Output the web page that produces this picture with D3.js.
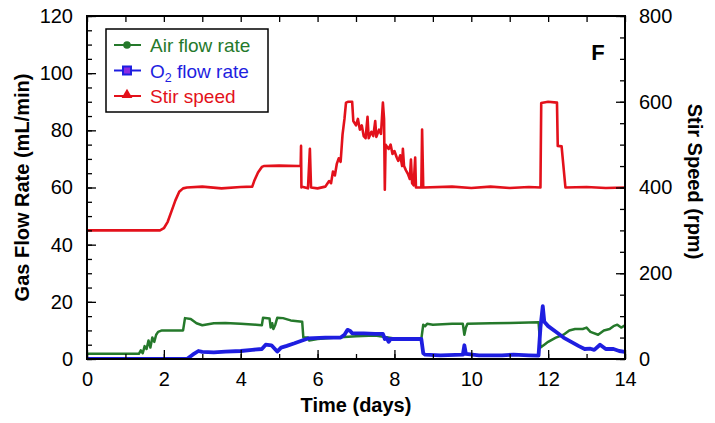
<!DOCTYPE html>
<meta charset="utf-8">
<script src="https://d3js.org/d3.v7.min.js"></script>
<style>
  body { margin: 0; background: #fff; }
  text { font-family: "Liberation Sans", Arial, sans-serif; }
</style>
<svg id="chart" width="715" height="423"></svg>
<script>

// air flow rate (mL/min), left axis
var airDays = [0, 1.35, 1.4, 1.45, 1.5, 1.55, 1.6, 1.65, 1.7, 1.75, 1.8, 1.85, 1.95, 2.5, 2.55, 2.7, 2.85, 3.0, 3.3, 3.6, 4.0, 4.4, 4.55, 4.58, 4.75, 4.78, 4.82, 4.85, 4.9, 4.95, 5.1, 5.3, 5.6, 5.63, 5.75, 5.78, 6.0, 6.5, 6.8, 7.0, 7.5, 8.0, 8.7, 8.75, 8.8, 8.85, 9.0, 9.5, 9.78, 9.82, 9.86, 9.9, 10.5, 11.0, 11.5, 11.75, 11.8, 11.9, 12.0, 12.2, 12.4, 12.55, 12.7, 12.9, 13.0, 13.1, 13.3, 13.45, 13.6, 13.7, 13.8, 13.9, 14]
var airFlow = [1.8, 1.8, 3, 2, 4.5, 3.5, 6.5, 4, 7.5, 6, 8.5, 9.5, 10, 10, 14.3, 14, 12.5, 11.8, 12.5, 12.6, 12.3, 12, 11.8, 14.4, 14.2, 11, 12.5, 10.5, 12, 14.4, 14.3, 13.5, 13, 7.5, 7.5, 6.5, 7, 7.5, 7.8, 8, 8.2, 7.2, 7, 12, 11.5, 12.3, 12, 12.3, 12.3, 8.5, 11, 12.3, 12.5, 12.6, 12.8, 12.9, 4, 5, 6, 7.5, 8.5, 10, 10.5, 10.5, 11, 9.5, 8.5, 10, 10.5, 11.5, 12, 11, 11.8]

// O2 flow rate (mL/min), left axis
var o2Days = [0, 2.6, 2.75, 2.9, 3.0, 3.3, 3.6, 4.0, 4.3, 4.55, 4.65, 4.8, 4.95, 5.05, 5.2, 5.4, 5.6, 5.75, 6.2, 6.6, 6.7, 6.78, 6.85, 6.9, 7.2, 7.5, 7.7, 7.75, 7.8, 7.85, 7.9, 8.2, 8.5, 8.7, 8.75, 8.8, 9.2, 9.78, 9.82, 9.86, 10.2, 10.8, 11.1, 11.5, 11.75, 11.8, 11.86, 11.9, 12.0, 12.2, 12.4, 12.6, 12.8, 12.95, 13.1, 13.2, 13.35, 13.5, 13.7, 13.85, 14]
var o2Flow = [0, 0, 1.5, 2.8, 2.5, 2.3, 2.6, 2.8, 3.2, 3.5, 5, 4.8, 2.6, 4, 4.6, 5.5, 6.5, 7.2, 7.5, 7.5, 8.5, 10.2, 9.8, 9, 9, 8.8, 8.8, 7, 7.3, 6, 7, 7, 7, 7, 2, 1.5, 1.3, 1.5, 4.8, 1.8, 1.3, 1.3, 1.5, 1.3, 1.2, 11, 18.5, 13, 11.5, 9.5, 7.5, 6, 4.5, 3.5, 3.6, 3.2, 5, 3.5, 3.5, 2.8, 2.5]

// stir speed (rpm), right axis
var stirDays = [0, 1.9, 2.0, 2.1, 2.2, 2.3, 2.4, 2.5, 2.6, 3, 3.5, 4.0, 4.3, 4.35, 4.45, 4.55, 4.6, 5.0, 5.5, 5.56, 5.57, 5.58, 5.6, 5.75, 5.8, 5.83, 6.0, 6.2, 6.3, 6.35, 6.4, 6.45, 6.5, 6.55, 6.6, 6.65, 6.7, 6.74, 6.8, 6.9, 6.93, 7.0, 7.05, 7.1, 7.15, 7.2, 7.25, 7.3, 7.33, 7.4, 7.45, 7.5, 7.53, 7.6, 7.65, 7.7, 7.73, 7.75, 7.77, 7.8, 7.85, 7.9, 7.95, 8.0, 8.06, 8.1, 8.15, 8.2, 8.22, 8.25, 8.3, 8.35, 8.4, 8.43, 8.46, 8.5, 8.54, 8.56, 8.7, 8.72, 8.75, 9.5, 10, 10.5, 11, 11.5, 11.8, 11.82, 12.0, 12.23, 12.25, 12.35, 12.45, 13, 13.5, 14]
var stirSpeed = [300, 300, 305, 320, 345, 370, 390, 398, 400, 402, 398, 401, 402, 415, 435, 448, 450, 451, 450, 450, 497, 400, 402, 398, 490, 400, 398, 402, 415, 410, 437, 428, 455, 468, 460, 524, 560, 598, 600, 600, 555, 545, 560, 535, 545, 520, 515, 565, 515, 530, 520, 555, 518, 535, 525, 598, 560, 395, 500, 496, 490, 500, 478, 485, 470, 462, 475, 450, 490, 450, 440, 432, 420, 465, 410, 405, 470, 400, 400, 535, 400, 402, 399, 402, 399, 401, 400, 597, 600, 598, 497, 496, 400, 401, 399, 400]

var xTicks = [0, 2, 4, 6, 8, 10, 12, 14]
var leftTicks = [0, 20, 40, 60, 80, 100, 120]
var rightTicks = [0, 200, 400, 600, 800]

var legendNames = ["Air flow rate", "O2 flow rate", "Stir speed"]
var colors = ["#25792b", "#1e1ee0", "#e3111b"]

var svg = d3.select("#chart")
var margin = {left: 87, right: 90, top: 16, bottom: 64}
var W = 715 - margin.left - margin.right
var H = 423 - margin.top - margin.bottom

var g = svg.append("g").attr("transform", "translate(" + margin.left + "," + margin.top + ")")

var x = d3.scaleLinear().domain([0, 14]).range([0, W])
var yL = d3.scaleLinear().domain([0, 120]).range([H, 0])
var yR = d3.scaleLinear().domain([0, 800]).range([H, 0])

g.append("clipPath").attr("id", "clip")
  .append("rect").attr("width", W).attr("height", H)

var plot = g.append("g").attr("clip-path", "url(#clip)")

function drawLine(days, vals, y, color, width) {
  var pts = days.map(function(d, i) { return [d, vals[i]] })
  plot.append("path")
    .datum(pts)
    .attr("fill", "none")
    .attr("stroke", color)
    .attr("stroke-width", width)
    .attr("stroke-linejoin", "round")
    .attr("d", d3.line().x(function(p){ return x(p[0]) }).y(function(p){ return y(p[1]) }))
}

drawLine(airDays, airFlow, yL, colors[0], 2.5)
drawLine(o2Days, o2Flow, yL, colors[1], 3.8)
drawLine(stirDays, stirSpeed, yR, colors[2], 2.6)

// axes, ticks inward
function styleAxis(a) {
  a.select(".domain").remove()
  a.selectAll("line").attr("stroke", "#000").attr("stroke-width", 1.3)
  a.selectAll("text").attr("font-size", 20).attr("fill", "#000")
}

var bottomMinor = g.append("g").attr("transform", "translate(0," + H + ")")
  .call(d3.axisBottom(x).ticks(14).tickSize(-5).tickFormat(""))
styleAxis(bottomMinor)
var bottom = g.append("g").attr("transform", "translate(0," + H + ")")
  .call(d3.axisBottom(x).tickValues(xTicks).tickSize(-9).tickPadding(13))
styleAxis(bottom)
var topAx = g.append("g")
  .call(d3.axisTop(x).ticks(14).tickSize(-6).tickFormat(""))
styleAxis(topAx)

var leftMinor = g.append("g")
  .call(d3.axisLeft(yL).ticks(24).tickSize(-5).tickFormat(""))
styleAxis(leftMinor)
var left = g.append("g")
  .call(d3.axisLeft(yL).tickValues(leftTicks).tickSize(-9).tickPadding(14))
styleAxis(left)

var rightMinor = g.append("g").attr("transform", "translate(" + W + ",0)")
  .call(d3.axisRight(yR).ticks(16).tickSize(-5).tickFormat(""))
styleAxis(rightMinor)
var right = g.append("g").attr("transform", "translate(" + W + ",0)")
  .call(d3.axisRight(yR).tickValues(rightTicks).tickSize(-9).tickPadding(14))
styleAxis(right)

g.append("rect")
  .attr("width", W).attr("height", H)
  .attr("fill", "none").attr("stroke", "#000").attr("stroke-width", 2)

// axis titles
svg.append("text")
  .attr("transform", "translate(29," + (margin.top + H / 2) + ") rotate(-90)")
  .attr("text-anchor", "middle")
  .attr("font-size", 20).attr("font-weight", "bold")
  .text("Gas Flow Rate (mL/min)")

svg.append("text")
  .attr("transform", "translate(688," + (margin.top + H / 2 - 6) + ") rotate(90)")
  .attr("text-anchor", "middle")
  .attr("font-size", 20).attr("font-weight", "bold")
  .text("Stir Speed (rpm)")

svg.append("text")
  .attr("x", margin.left + W / 2).attr("y", 412)
  .attr("text-anchor", "middle")
  .attr("font-size", 20).attr("font-weight", "bold")
  .text("Time (days)")

svg.append("text")
  .attr("x", 598).attr("y", 60)
  .attr("text-anchor", "middle")
  .attr("font-size", 22).attr("font-weight", "bold")
  .text("F")

// legend
var leg = svg.append("g").attr("transform", "translate(106,29)")
leg.append("rect").attr("width", 162).attr("height", 83)
  .attr("fill", "#fff").attr("stroke", "#000").attr("stroke-width", 1.5)

legendNames.forEach(function(name, i) {
  var ly = 16 + i * 25.5
  leg.append("line").attr("x1", 8).attr("x2", 35).attr("y1", ly).attr("y2", ly)
    .attr("stroke", colors[i]).attr("stroke-width", 2)
  if (i == 0) {
    leg.append("circle").attr("cx", 21).attr("cy", ly).attr("r", 3.8).attr("fill", colors[i])
  } else if (i == 1) {
    leg.append("rect").attr("x", 17).attr("y", ly - 4).attr("width", 8).attr("height", 8)
      .attr("fill", "#8a2be2").attr("stroke", colors[i]).attr("stroke-width", 2)
  } else {
    leg.append("path").attr("d", d3.symbol().type(d3.symbolTriangle).size(50))
      .attr("transform", "translate(21," + (ly - 1) + ")").attr("fill", colors[i])
  }
  var t = leg.append("text").attr("x", 44).attr("y", ly + 7)
    .attr("font-family", "'Open Sans', sans-serif").attr("font-size", 19)
    .attr("fill", colors[i])
  if (i == 1) {
    t.append("tspan").text("O")
    t.append("tspan").attr("font-size", 12.5).attr("dy", 4).text("2")
    t.append("tspan").attr("dy", -4).text(" flow rate")
  } else {
    t.text(name)
  }
})

</script>
